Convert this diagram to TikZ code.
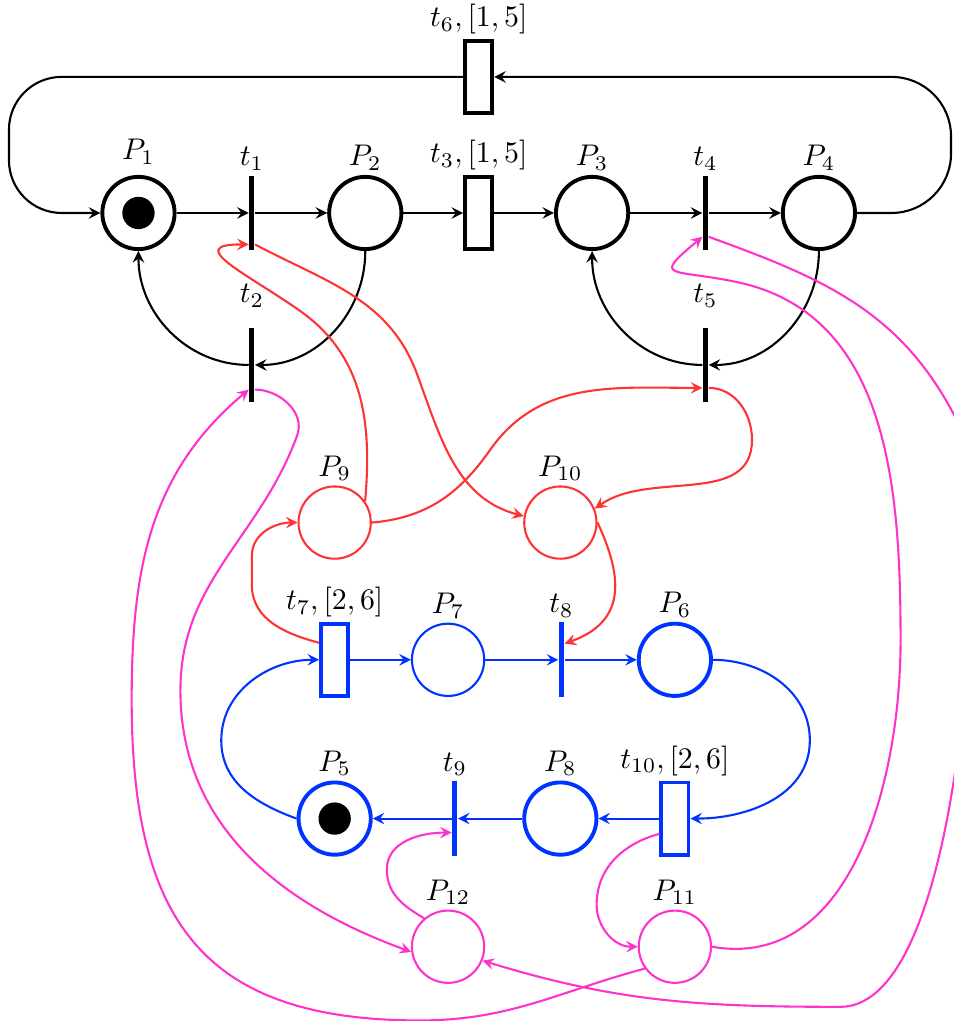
\documentclass[tikz,border=0pt]{standalone}
\definecolor{netred}{RGB}{255,51,51}
\definecolor{netblue}{RGB}{0,51,255}
\definecolor{netpink}{RGB}{255,51,204}
\begin{document}
\begin{tikzpicture}[x=1.334cm, y=1.334cm,
  place/.style={draw, circle, line width=0.7pt, minimum size=0.85cm, inner sep=0pt},
  heavy/.style={line width=1.3pt},
  trans/.style={fill, minimum width=1.7pt, minimum height=0.88cm, inner sep=0pt},
  timed/.style={draw, line width=1.3pt, minimum width=0.32cm, minimum height=0.85cm, inner sep=0pt},
  flow/.style={-stealth, line width=0.7pt},
  label distance=-2pt
]
  \useasboundingbox (-1.221,-7.125) rectangle (7.183,1.878);
  % top net
  \node[place, heavy, label={[label distance=0pt]above:$P_1$}] (P1) at (0,0) {};
  \node[trans, label=above:$t_1$] (t1) at (1,0) {};
  \node[place, heavy, label=above:$P_2$] (P2) at (2,0) {};
  \node[timed, label=above:{$t_3,[1,5]$}] (t3) at (3,0) {};
  \node[place, heavy, label=above:$P_3$] (P3) at (4,0) {};
  \node[trans, label=above:$t_4$] (t4) at (5,0) {};
  \node[place, heavy, label=above:$P_4$] (P4) at (6,0) {};
  \node[timed, label=above:{$t_6,[1,5]$}] (t6) at (3,1.2) {};
  \node[trans, label={[label distance=3pt]above:$t_2$}] (t2) at (1,-1.34) {};
  \node[trans, label={[label distance=3pt]above:$t_5$}] (t5) at (5,-1.34) {};
  % resources
  \node[place, draw=netred, label=above:$P_9$] (P9) at (1.73,-2.73) {};
  \node[place, draw=netred, label=above:$P_{10}$] (P10) at (3.72,-2.73) {};
  % bottom net
  \node[timed, draw=netblue, label=above:{$t_7,[2,6]$}] (t7) at (1.73,-3.94) {};
  \node[place, draw=netblue, label=above:$P_7$] (P7) at (2.73,-3.94) {};
  \node[trans, fill=netblue, label=above:$t_8$] (t8) at (3.73,-3.94) {};
  \node[place, heavy, draw=netblue, label=above:$P_6$] (P6) at (4.73,-3.94) {};
  \node[place, heavy, draw=netblue, label=above:$P_5$] (P5) at (1.73,-5.34) {};
  \node[trans, fill=netblue, label=above:$t_9$] (t9) at (2.79,-5.34) {};
  \node[place, heavy, draw=netblue, label=above:$P_8$] (P8) at (3.72,-5.34) {};
  \node[timed, draw=netblue, label=above:{$t_{10},[2,6]$}] (t10) at (4.73,-5.34) {};
  \node[place, draw=netpink, label=above:$P_{12}$] (P12) at (2.73,-6.47) {};
  \node[place, draw=netpink, label=above:$P_{11}$] (P11) at (4.73,-6.47) {};
  % tokens
  \fill (P1) circle (0.19cm);
  \fill (P5) circle (0.19cm);
  \coordinate (ne) at (7.165,1.2);
  \coordinate (nw) at (-1.142,1.2);
  % black arcs
  \draw[flow] (P1) -- (t1);
  \draw[flow] (t1) -- (P2);
  \draw[flow] (P2) -- (t3);
  \draw[flow] (t3) -- (P3);
  \draw[flow] (P3) -- (t4);
  \draw[flow] (t4) -- (P4);
  \draw[flow] (P2) to[out=-90,in=0] (t2);
  \draw[flow] (t2) to[out=180,in=-90] (P1);
  \draw[flow] (P4) to[out=-90,in=0] (t5);
  \draw[flow] (t5) to[out=180,in=-90] (P3);
  \draw[flow, rounded corners=0.7cm] (P4) -| (ne) -- (t6);
  \draw[flow, rounded corners=0.62cm] (t6) -- (nw) |- (P1);
  % red arcs
  \draw[flow, netred] (P9.35) to[out=85,in=-35] (1.42,-0.86)
    to[out=145,in=180,looseness=2] ([yshift=-0.37cm]t1.west);
  \draw[flow, netred] ([yshift=-0.37cm]t1.east) to[out=-28,in=110] (2.46,-1.43)
    to[out=-70,in=165] (P10.170);
  \draw[flow, netred] (P9.east) to[out=5,in=-125] (3.1,-2.09)
    to[out=55,in=180] ([yshift=-0.27cm]t5.west);
  \draw[flow, netred] ([yshift=-0.27cm]t5.east) to[out=0,in=90] (5.41,-2.0)
    to[out=-90,in=35] (P10.22);
  \draw[flow, netred] (P10.east) to[out=-65,in=20,looseness=1.3] ([yshift=0.19cm]t8.east);
  \draw[flow, netred] ([yshift=0.2cm]t7.west) to[out=165,in=-90] (1.0,-3.28) -- (1.0,-3.02)
    to[out=90,in=180] (P9.west);
  % blue arcs
  \draw[flow, netblue] (t7) -- (P7);
  \draw[flow, netblue] (P7) -- (t8);
  \draw[flow, netblue] (t8) -- (P6);
  \draw[flow, netblue] (P6.east) to[out=0,in=90] (5.92,-4.65) to[out=-90,in=0] (t10.east);
  \draw[flow, netblue] (t10) -- (P8);
  \draw[flow, netblue] (P8) -- (t9);
  \draw[flow, netblue] (t9) -- (P5);
  \draw[flow, netblue] (P5.west) to[out=160,in=-90] (0.73,-4.65) to[out=90,in=180] (t7.west);
  % pink arcs
  \draw[flow, netpink] (P11.216) to[out=195,in=0] (2.48,-7.12)
    to[out=180,in=-90,looseness=1.3] (-0.06,-4.29)
    to[out=90,in=220] ([yshift=-0.29cm]t2.west);
  \draw[flow, netpink] ([yshift=-0.29cm]t2.east) to[out=0,in=70] (1.4,-1.96)
    to[out=-110,in=90] (0.37,-4.21) to[out=-90,in=160] (P12.188);
  \draw[flow, netpink] (P12.130) to[out=150,in=-90] (2.19,-5.79)
    to[out=90,in=180] ([yshift=-0.165cm]t9.west);
  \draw[flow, netpink] ([yshift=-0.18cm]t10.west) to[out=195,in=90] (4.04,-6.1)
    to[out=-90,in=180] (P11.west);
  \draw[flow, netpink] (P11.east) to[out=-10,in=-90] (6.72,-3.77)
    to[out=90,in=-12] (5.28,-0.61)
    to[out=168,in=220,looseness=3] ([yshift=-0.28cm]t4.west);
  \draw[flow, netpink] ([yshift=-0.28cm]t4.east) to[out=-20,in=118] (7.183,-1.764)
    to[out=-62,in=90] (7.33,-3.33)
    to[out=-90,in=0,looseness=0.6] (6.19,-7.0) to[out=180,in=-17] (P12.-22);
\end{tikzpicture}
\end{document}
